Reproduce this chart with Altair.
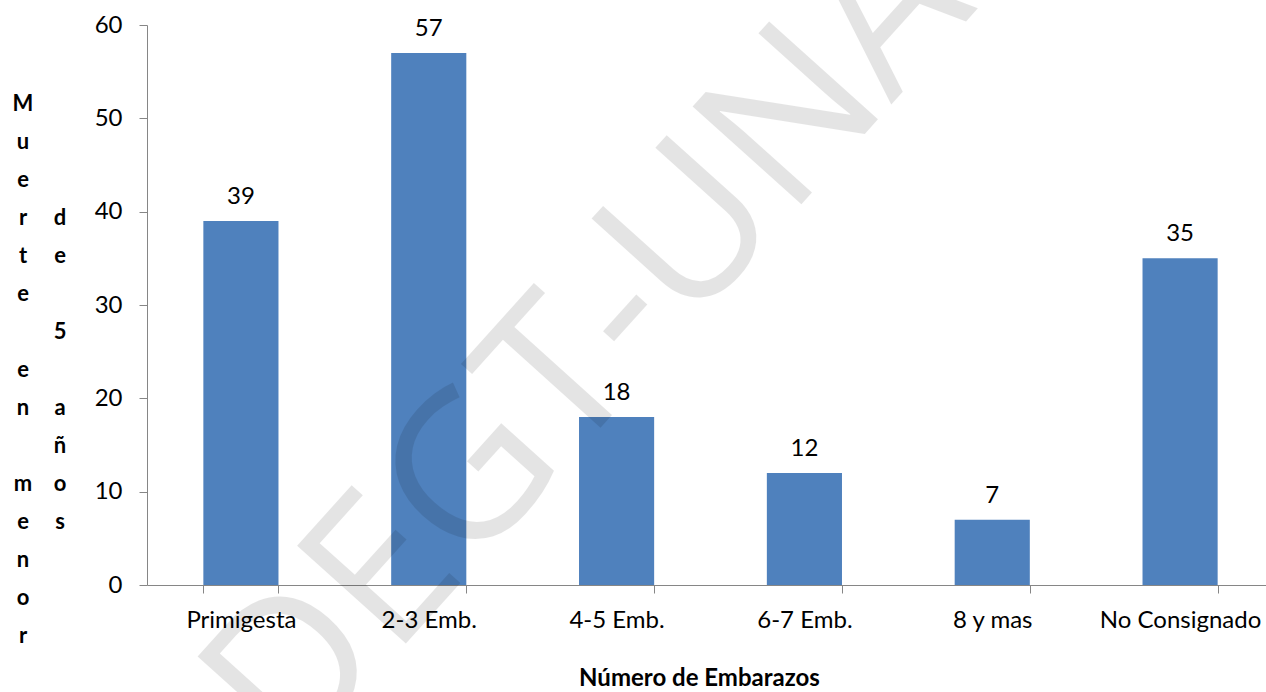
import altair as alt
import pandas as pd

# Deaths of children under 5 by number of pregnancies of the mother
categories = ["Primigesta", "2-3 Emb.", "4-5 Emb.", "6-7 Emb.", "8 y mas", "No Consignado"]
deaths = [39, 57, 18, 12, 7, 35]

y_ticks = [0, 10, 20, 30, 40, 50, 60]
x_title = "Número de Embarazos"
y_title_col1 = "Muerte en menor"
y_title_col2 = "de 5 años"
watermark = "DEGT-UNAH"

BAR_BLUE = "#4F81BD"
AXIS_GREY = "#868686"
FONT = "Lato"

df = pd.DataFrame({"cat": categories, "n": deaths})

x_enc = alt.X(
    "cat:N",
    sort=categories,
    title=x_title,
    scale=alt.Scale(range=[0, 1127], paddingInner=0.6, paddingOuter=0.3),
    axis=alt.Axis(
        labelAngle=0,
        tickBand="extent",
        tickSize=8,
        labelPadding=15,
        labelFontSize=24,
        labelFont=FONT,
        labelColor="#000",
        titleFont=FONT,
        titleFontSize=24,
        titleFontWeight="bold",
        titleColor="#000",
        titlePadding=34,
        titleX=552,
        domainColor=AXIS_GREY,
        tickColor=AXIS_GREY,
    ),
)
y_enc = alt.Y(
    "n:Q",
    scale=alt.Scale(domain=[0, 60], nice=False),
    axis=alt.Axis(
        values=y_ticks,
        title=None,
        grid=False,
        tickSize=8,
        labelPadding=17,
        labelFontSize=24,
        labelFont=FONT,
        labelColor="#000",
        domainColor=AXIS_GREY,
        tickColor=AXIS_GREY,
    ),
)

bars = alt.Chart(df).mark_bar(color=BAR_BLUE).encode(x=x_enc, y=y_enc)

labels = alt.Chart(df).mark_text(
    baseline="alphabetic", dy=-17, fontSize=24, font=FONT, color="#000"
).encode(x=x_enc, y=y_enc, text="n:Q")

mark_wm = alt.Chart(pd.DataFrame({"t": [watermark]})).mark_text(
    angle=312, fontSize=205, font="Open Sans", color="#000", opacity=0.10,
    align="center", baseline="middle",
).encode(text="t:N", x=alt.value(493), y=alt.value(266))

base = alt.layer(bars, mark_wm, labels)

# Vertical, letter-by-letter y-axis title in two columns
rows = []
for i, ch in enumerate(y_title_col1):
    rows.append({"ch": ch, "col": 0, "row": i})
offset = (len(y_title_col1) - len(y_title_col2)) // 2
for i, ch in enumerate(y_title_col2):
    rows.append({"ch": ch, "col": 1, "row": i + offset})
letters_df = pd.DataFrame(rows)

letters = alt.Chart(letters_df).mark_text(
    fontSize=22, font=FONT, fontWeight="bold", color="#000",
    align="center", baseline="alphabetic",
).encode(
    x=alt.X("col:Q", scale=alt.Scale(domain=[0, 1], range=[-124, -87]), axis=None),
    y=alt.Y("row:Q", scale=alt.Scale(domain=[0, 14], range=[86, 618]), axis=None),
    text="ch:N",
)

chart = (
    alt.layer(base, letters)
    .resolve_scale(x="independent", y="independent")
    .properties(
        width=1119,
        height=560,
        padding={"left": 147, "top": 25, "right": 0, "bottom": 107},
        autosize=alt.AutoSizeParams(type="none"),
        background="white",
    )
    .configure_view(stroke=None)
)

chart.save("out.html", embed_options={"renderer": "svg", "actions": False})
